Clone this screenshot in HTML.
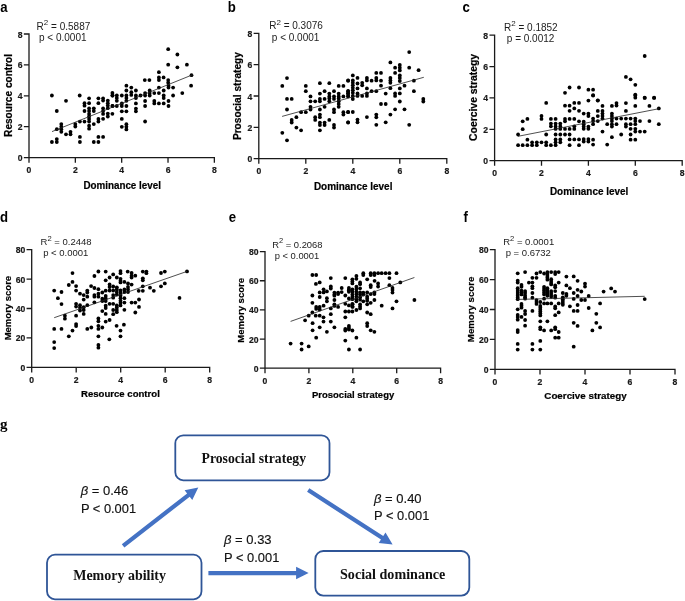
<!DOCTYPE html>
<html><head><meta charset="utf-8"><style>html,body{margin:0;padding:0;background:#fff;}svg{display:block;will-change:transform;}</style></head>
<body><svg width="685" height="601" viewBox="0 0 685 601" font-family="'Liberation Sans', sans-serif"><rect width="685" height="601" fill="#fff"/>
<text transform="translate(0.2,11.8) scale(0.88,1)" font-family="'Liberation Sans', sans-serif" font-size="15" font-weight="bold" fill="#000">a</text>
<text transform="translate(227.8,11.6) scale(0.88,1)" font-family="'Liberation Sans', sans-serif" font-size="15" font-weight="bold" fill="#000">b</text>
<text transform="translate(462.6,11.9) scale(0.88,1)" font-family="'Liberation Sans', sans-serif" font-size="15" font-weight="bold" fill="#000">c</text>
<text transform="translate(0,221.8) scale(0.88,1)" font-family="'Liberation Sans', sans-serif" font-size="15" font-weight="bold" fill="#000">d</text>
<text transform="translate(228.8,221.7) scale(0.88,1)" font-family="'Liberation Sans', sans-serif" font-size="15" font-weight="bold" fill="#000">e</text>
<text transform="translate(463.6,222) scale(0.88,1)" font-family="'Liberation Sans', sans-serif" font-size="15" font-weight="bold" fill="#000">f</text>
<path d="M29.00,34.00V157.60M29.00,157.60H214.36M24.50,157.60H29.00M24.50,126.70H29.00M24.50,95.80H29.00M24.50,64.90H29.00M24.50,34.00H29.00M29.00,157.60V162.10M75.34,157.60V162.10M121.68,157.60V162.10M168.02,157.60V162.10M214.36,157.60V162.10" stroke="#1a1a1a" stroke-width="1.3" fill="none" stroke-linecap="square"/>
<text transform="translate(22.50,161.10) scale(0.87,1)" text-anchor="end" font-size="9.9" font-weight="bold" fill="#1a1a1a" stroke="#1a1a1a" stroke-width="0.22">0</text>
<text transform="translate(22.50,130.20) scale(0.87,1)" text-anchor="end" font-size="9.9" font-weight="bold" fill="#1a1a1a" stroke="#1a1a1a" stroke-width="0.22">2</text>
<text transform="translate(22.50,99.30) scale(0.87,1)" text-anchor="end" font-size="9.9" font-weight="bold" fill="#1a1a1a" stroke="#1a1a1a" stroke-width="0.22">4</text>
<text transform="translate(22.50,68.40) scale(0.87,1)" text-anchor="end" font-size="9.9" font-weight="bold" fill="#1a1a1a" stroke="#1a1a1a" stroke-width="0.22">6</text>
<text transform="translate(22.50,37.50) scale(0.87,1)" text-anchor="end" font-size="9.9" font-weight="bold" fill="#1a1a1a" stroke="#1a1a1a" stroke-width="0.22">8</text>
<text transform="translate(29.00,173.30) scale(0.87,1)" text-anchor="middle" font-size="9.9" font-weight="bold" fill="#1a1a1a" stroke="#1a1a1a" stroke-width="0.22">0</text>
<text transform="translate(75.34,173.30) scale(0.87,1)" text-anchor="middle" font-size="9.9" font-weight="bold" fill="#1a1a1a" stroke="#1a1a1a" stroke-width="0.22">2</text>
<text transform="translate(121.68,173.30) scale(0.87,1)" text-anchor="middle" font-size="9.9" font-weight="bold" fill="#1a1a1a" stroke="#1a1a1a" stroke-width="0.22">4</text>
<text transform="translate(168.02,173.30) scale(0.87,1)" text-anchor="middle" font-size="9.9" font-weight="bold" fill="#1a1a1a" stroke="#1a1a1a" stroke-width="0.22">6</text>
<text transform="translate(214.36,173.30) scale(0.87,1)" text-anchor="middle" font-size="9.9" font-weight="bold" fill="#1a1a1a" stroke="#1a1a1a" stroke-width="0.22">8</text>
<text x="83.40" y="188.50" font-size="10.0" font-weight="bold" fill="#000" stroke="#000" stroke-width="0.2" textLength="77.5" lengthAdjust="spacingAndGlyphs">Dominance level</text>
<text transform="translate(12.20,95.40) rotate(-90)" text-anchor="middle" font-size="10.0" font-weight="bold" fill="#000" stroke="#000" stroke-width="0.2" textLength="83" lengthAdjust="spacingAndGlyphs">Resource control</text>
<path d="M258.80,33.30V158.70M258.80,158.70H446.80M254.30,158.70H258.80M254.30,127.35H258.80M254.30,96.00H258.80M254.30,64.65H258.80M254.30,33.30H258.80M258.80,158.70V163.20M305.80,158.70V163.20M352.80,158.70V163.20M399.80,158.70V163.20M446.80,158.70V163.20" stroke="#1a1a1a" stroke-width="1.3" fill="none" stroke-linecap="square"/>
<text transform="translate(252.30,162.20) scale(0.87,1)" text-anchor="end" font-size="9.9" font-weight="bold" fill="#1a1a1a" stroke="#1a1a1a" stroke-width="0.22">0</text>
<text transform="translate(252.30,130.85) scale(0.87,1)" text-anchor="end" font-size="9.9" font-weight="bold" fill="#1a1a1a" stroke="#1a1a1a" stroke-width="0.22">2</text>
<text transform="translate(252.30,99.50) scale(0.87,1)" text-anchor="end" font-size="9.9" font-weight="bold" fill="#1a1a1a" stroke="#1a1a1a" stroke-width="0.22">4</text>
<text transform="translate(252.30,68.15) scale(0.87,1)" text-anchor="end" font-size="9.9" font-weight="bold" fill="#1a1a1a" stroke="#1a1a1a" stroke-width="0.22">6</text>
<text transform="translate(252.30,36.80) scale(0.87,1)" text-anchor="end" font-size="9.9" font-weight="bold" fill="#1a1a1a" stroke="#1a1a1a" stroke-width="0.22">8</text>
<text transform="translate(258.80,174.40) scale(0.87,1)" text-anchor="middle" font-size="9.9" font-weight="bold" fill="#1a1a1a" stroke="#1a1a1a" stroke-width="0.22">0</text>
<text transform="translate(305.80,174.40) scale(0.87,1)" text-anchor="middle" font-size="9.9" font-weight="bold" fill="#1a1a1a" stroke="#1a1a1a" stroke-width="0.22">2</text>
<text transform="translate(352.80,174.40) scale(0.87,1)" text-anchor="middle" font-size="9.9" font-weight="bold" fill="#1a1a1a" stroke="#1a1a1a" stroke-width="0.22">4</text>
<text transform="translate(399.80,174.40) scale(0.87,1)" text-anchor="middle" font-size="9.9" font-weight="bold" fill="#1a1a1a" stroke="#1a1a1a" stroke-width="0.22">6</text>
<text transform="translate(446.80,174.40) scale(0.87,1)" text-anchor="middle" font-size="9.9" font-weight="bold" fill="#1a1a1a" stroke="#1a1a1a" stroke-width="0.22">8</text>
<text x="313.90" y="190.30" font-size="10.0" font-weight="bold" fill="#000" stroke="#000" stroke-width="0.2" textLength="78.5" lengthAdjust="spacingAndGlyphs">Dominance level</text>
<text transform="translate(240.60,96.10) rotate(-90)" text-anchor="middle" font-size="10.0" font-weight="bold" fill="#000" stroke="#000" stroke-width="0.2" textLength="88" lengthAdjust="spacingAndGlyphs">Prosocial strategy</text>
<path d="M494.60,35.18V160.70M494.60,160.70H682.20M490.10,160.70H494.60M490.10,129.32H494.60M490.10,97.94H494.60M490.10,66.56H494.60M490.10,35.18H494.60M494.60,160.70V165.20M541.50,160.70V165.20M588.40,160.70V165.20M635.30,160.70V165.20M682.20,160.70V165.20" stroke="#1a1a1a" stroke-width="1.3" fill="none" stroke-linecap="square"/>
<text transform="translate(488.10,164.20) scale(0.87,1)" text-anchor="end" font-size="9.9" font-weight="bold" fill="#1a1a1a" stroke="#1a1a1a" stroke-width="0.22">0</text>
<text transform="translate(488.10,132.82) scale(0.87,1)" text-anchor="end" font-size="9.9" font-weight="bold" fill="#1a1a1a" stroke="#1a1a1a" stroke-width="0.22">2</text>
<text transform="translate(488.10,101.44) scale(0.87,1)" text-anchor="end" font-size="9.9" font-weight="bold" fill="#1a1a1a" stroke="#1a1a1a" stroke-width="0.22">4</text>
<text transform="translate(488.10,70.06) scale(0.87,1)" text-anchor="end" font-size="9.9" font-weight="bold" fill="#1a1a1a" stroke="#1a1a1a" stroke-width="0.22">6</text>
<text transform="translate(488.10,38.68) scale(0.87,1)" text-anchor="end" font-size="9.9" font-weight="bold" fill="#1a1a1a" stroke="#1a1a1a" stroke-width="0.22">8</text>
<text transform="translate(494.60,176.40) scale(0.87,1)" text-anchor="middle" font-size="9.9" font-weight="bold" fill="#1a1a1a" stroke="#1a1a1a" stroke-width="0.22">0</text>
<text transform="translate(541.50,176.40) scale(0.87,1)" text-anchor="middle" font-size="9.9" font-weight="bold" fill="#1a1a1a" stroke="#1a1a1a" stroke-width="0.22">2</text>
<text transform="translate(588.40,176.40) scale(0.87,1)" text-anchor="middle" font-size="9.9" font-weight="bold" fill="#1a1a1a" stroke="#1a1a1a" stroke-width="0.22">4</text>
<text transform="translate(635.30,176.40) scale(0.87,1)" text-anchor="middle" font-size="9.9" font-weight="bold" fill="#1a1a1a" stroke="#1a1a1a" stroke-width="0.22">6</text>
<text transform="translate(682.20,176.40) scale(0.87,1)" text-anchor="middle" font-size="9.9" font-weight="bold" fill="#1a1a1a" stroke="#1a1a1a" stroke-width="0.22">8</text>
<text x="549.90" y="194.70" font-size="10.0" font-weight="bold" fill="#000" stroke="#000" stroke-width="0.2" textLength="78.4" lengthAdjust="spacingAndGlyphs">Dominance level</text>
<text transform="translate(477.30,97.40) rotate(-90)" text-anchor="middle" font-size="10.0" font-weight="bold" fill="#000" stroke="#000" stroke-width="0.2" textLength="87" lengthAdjust="spacingAndGlyphs">Coercive strategy</text>
<path d="M31.70,249.60V367.40M31.70,367.40H209.70M27.20,367.40H31.70M27.20,337.95H31.70M27.20,308.50H31.70M27.20,279.05H31.70M27.20,249.60H31.70M31.70,367.40V371.90M76.20,367.40V371.90M120.70,367.40V371.90M165.20,367.40V371.90M209.70,367.40V371.90" stroke="#1a1a1a" stroke-width="1.3" fill="none" stroke-linecap="square"/>
<text transform="translate(25.20,370.90) scale(0.87,1)" text-anchor="end" font-size="9.9" font-weight="bold" fill="#1a1a1a" stroke="#1a1a1a" stroke-width="0.22">0</text>
<text transform="translate(25.20,341.45) scale(0.87,1)" text-anchor="end" font-size="9.9" font-weight="bold" fill="#1a1a1a" stroke="#1a1a1a" stroke-width="0.22">20</text>
<text transform="translate(25.20,312.00) scale(0.87,1)" text-anchor="end" font-size="9.9" font-weight="bold" fill="#1a1a1a" stroke="#1a1a1a" stroke-width="0.22">40</text>
<text transform="translate(25.20,282.55) scale(0.87,1)" text-anchor="end" font-size="9.9" font-weight="bold" fill="#1a1a1a" stroke="#1a1a1a" stroke-width="0.22">60</text>
<text transform="translate(25.20,253.10) scale(0.87,1)" text-anchor="end" font-size="9.9" font-weight="bold" fill="#1a1a1a" stroke="#1a1a1a" stroke-width="0.22">80</text>
<text transform="translate(31.70,383.10) scale(0.87,1)" text-anchor="middle" font-size="9.9" font-weight="bold" fill="#1a1a1a" stroke="#1a1a1a" stroke-width="0.22">0</text>
<text transform="translate(76.20,383.10) scale(0.87,1)" text-anchor="middle" font-size="9.9" font-weight="bold" fill="#1a1a1a" stroke="#1a1a1a" stroke-width="0.22">2</text>
<text transform="translate(120.70,383.10) scale(0.87,1)" text-anchor="middle" font-size="9.9" font-weight="bold" fill="#1a1a1a" stroke="#1a1a1a" stroke-width="0.22">4</text>
<text transform="translate(165.20,383.10) scale(0.87,1)" text-anchor="middle" font-size="9.9" font-weight="bold" fill="#1a1a1a" stroke="#1a1a1a" stroke-width="0.22">6</text>
<text transform="translate(209.70,383.10) scale(0.87,1)" text-anchor="middle" font-size="9.9" font-weight="bold" fill="#1a1a1a" stroke="#1a1a1a" stroke-width="0.22">8</text>
<text x="81.00" y="396.80" font-size="9.5" font-weight="bold" fill="#000" stroke="#000" stroke-width="0.2" textLength="78.8" lengthAdjust="spacingAndGlyphs">Resource control</text>
<text transform="translate(10.80,308.10) rotate(-90)" text-anchor="middle" font-size="9.5" font-weight="bold" fill="#000" stroke="#000" stroke-width="0.2" textLength="64.5" lengthAdjust="spacingAndGlyphs">Memory score</text>
<path d="M265.00,251.60V368.20M265.00,368.20H440.60M260.50,368.20H265.00M260.50,339.05H265.00M260.50,309.90H265.00M260.50,280.75H265.00M260.50,251.60H265.00M265.00,368.20V372.70M308.90,368.20V372.70M352.80,368.20V372.70M396.70,368.20V372.70M440.60,368.20V372.70" stroke="#1a1a1a" stroke-width="1.3" fill="none" stroke-linecap="square"/>
<text transform="translate(258.50,371.70) scale(0.87,1)" text-anchor="end" font-size="9.9" font-weight="bold" fill="#1a1a1a" stroke="#1a1a1a" stroke-width="0.22">0</text>
<text transform="translate(258.50,342.55) scale(0.87,1)" text-anchor="end" font-size="9.9" font-weight="bold" fill="#1a1a1a" stroke="#1a1a1a" stroke-width="0.22">20</text>
<text transform="translate(258.50,313.40) scale(0.87,1)" text-anchor="end" font-size="9.9" font-weight="bold" fill="#1a1a1a" stroke="#1a1a1a" stroke-width="0.22">40</text>
<text transform="translate(258.50,284.25) scale(0.87,1)" text-anchor="end" font-size="9.9" font-weight="bold" fill="#1a1a1a" stroke="#1a1a1a" stroke-width="0.22">60</text>
<text transform="translate(258.50,255.10) scale(0.87,1)" text-anchor="end" font-size="9.9" font-weight="bold" fill="#1a1a1a" stroke="#1a1a1a" stroke-width="0.22">80</text>
<text transform="translate(265.00,383.90) scale(0.87,1)" text-anchor="middle" font-size="9.9" font-weight="bold" fill="#1a1a1a" stroke="#1a1a1a" stroke-width="0.22">0</text>
<text transform="translate(308.90,383.90) scale(0.87,1)" text-anchor="middle" font-size="9.9" font-weight="bold" fill="#1a1a1a" stroke="#1a1a1a" stroke-width="0.22">2</text>
<text transform="translate(352.80,383.90) scale(0.87,1)" text-anchor="middle" font-size="9.9" font-weight="bold" fill="#1a1a1a" stroke="#1a1a1a" stroke-width="0.22">4</text>
<text transform="translate(396.70,383.90) scale(0.87,1)" text-anchor="middle" font-size="9.9" font-weight="bold" fill="#1a1a1a" stroke="#1a1a1a" stroke-width="0.22">6</text>
<text transform="translate(440.60,383.90) scale(0.87,1)" text-anchor="middle" font-size="9.9" font-weight="bold" fill="#1a1a1a" stroke="#1a1a1a" stroke-width="0.22">8</text>
<text x="312.00" y="397.50" font-size="9.5" font-weight="bold" fill="#000" stroke="#000" stroke-width="0.2" textLength="82.2" lengthAdjust="spacingAndGlyphs">Prosocial strategy</text>
<text transform="translate(244.10,310.30) rotate(-90)" text-anchor="middle" font-size="9.5" font-weight="bold" fill="#000" stroke="#000" stroke-width="0.2" textLength="64.8" lengthAdjust="spacingAndGlyphs">Memory score</text>
<path d="M495.00,249.70V369.30M495.00,369.30H675.00M490.50,369.30H495.00M490.50,339.40H495.00M490.50,309.50H495.00M490.50,279.60H495.00M490.50,249.70H495.00M495.00,369.30V373.80M540.00,369.30V373.80M585.00,369.30V373.80M630.00,369.30V373.80M675.00,369.30V373.80" stroke="#1a1a1a" stroke-width="1.3" fill="none" stroke-linecap="square"/>
<text transform="translate(488.50,372.80) scale(0.87,1)" text-anchor="end" font-size="9.9" font-weight="bold" fill="#1a1a1a" stroke="#1a1a1a" stroke-width="0.22">0</text>
<text transform="translate(488.50,342.90) scale(0.87,1)" text-anchor="end" font-size="9.9" font-weight="bold" fill="#1a1a1a" stroke="#1a1a1a" stroke-width="0.22">20</text>
<text transform="translate(488.50,313.00) scale(0.87,1)" text-anchor="end" font-size="9.9" font-weight="bold" fill="#1a1a1a" stroke="#1a1a1a" stroke-width="0.22">40</text>
<text transform="translate(488.50,283.10) scale(0.87,1)" text-anchor="end" font-size="9.9" font-weight="bold" fill="#1a1a1a" stroke="#1a1a1a" stroke-width="0.22">60</text>
<text transform="translate(488.50,253.20) scale(0.87,1)" text-anchor="end" font-size="9.9" font-weight="bold" fill="#1a1a1a" stroke="#1a1a1a" stroke-width="0.22">80</text>
<text transform="translate(495.00,385.00) scale(0.87,1)" text-anchor="middle" font-size="9.9" font-weight="bold" fill="#1a1a1a" stroke="#1a1a1a" stroke-width="0.22">0</text>
<text transform="translate(540.00,385.00) scale(0.87,1)" text-anchor="middle" font-size="9.9" font-weight="bold" fill="#1a1a1a" stroke="#1a1a1a" stroke-width="0.22">2</text>
<text transform="translate(585.00,385.00) scale(0.87,1)" text-anchor="middle" font-size="9.9" font-weight="bold" fill="#1a1a1a" stroke="#1a1a1a" stroke-width="0.22">4</text>
<text transform="translate(630.00,385.00) scale(0.87,1)" text-anchor="middle" font-size="9.9" font-weight="bold" fill="#1a1a1a" stroke="#1a1a1a" stroke-width="0.22">6</text>
<text transform="translate(675.00,385.00) scale(0.87,1)" text-anchor="middle" font-size="9.9" font-weight="bold" fill="#1a1a1a" stroke="#1a1a1a" stroke-width="0.22">8</text>
<text x="544.30" y="399.00" font-size="9.5" font-weight="bold" fill="#000" stroke="#000" stroke-width="0.2" textLength="82.3" lengthAdjust="spacingAndGlyphs">Coercive strategy</text>
<text transform="translate(474.00,309.40) rotate(-90)" text-anchor="middle" font-size="9.5" font-weight="bold" fill="#000" stroke="#000" stroke-width="0.2" textLength="65.5" lengthAdjust="spacingAndGlyphs">Memory score</text>
<text x="36.60" y="29.60" font-size="10" fill="#1c1c1c">R<tspan dy="-4.60" font-size="8.00">2</tspan><tspan dy="4.60"> = 0.5887</tspan></text>
<text x="39.00" y="41.40" font-size="10" fill="#1c1c1c">p &lt; 0.0001</text>
<text x="269.20" y="29.30" font-size="10" fill="#1c1c1c">R<tspan dy="-4.60" font-size="8.00">2</tspan><tspan dy="4.60"> = 0.3076</tspan></text>
<text x="271.80" y="40.50" font-size="10" fill="#1c1c1c">p &lt; 0.0001</text>
<text x="504.00" y="30.80" font-size="10" fill="#1c1c1c">R<tspan dy="-4.60" font-size="8.00">2</tspan><tspan dy="4.60"> = 0.1852</tspan></text>
<text x="506.80" y="42.40" font-size="10" fill="#1c1c1c">p = 0.0012</text>
<text x="40.60" y="245.30" font-size="9.5" fill="#1c1c1c">R<tspan dy="-4.37" font-size="7.60">2</tspan><tspan dy="4.37"> = 0.2448</tspan></text>
<text x="43.20" y="256.40" font-size="9.5" fill="#1c1c1c">p &lt; 0.0001</text>
<text x="272.20" y="247.50" font-size="9.4" fill="#1c1c1c">R<tspan dy="-4.32" font-size="7.52">2</tspan><tspan dy="4.32"> = 0.2068</tspan></text>
<text x="274.70" y="258.80" font-size="9.4" fill="#1c1c1c">p &lt; 0.0001</text>
<text x="503.20" y="245.30" font-size="9.5" fill="#1c1c1c">R<tspan dy="-4.37" font-size="7.60">2</tspan><tspan dy="4.37"> = 0.0001</tspan></text>
<text x="505.70" y="256.40" font-size="9.5" fill="#1c1c1c">p = 0.6732</text>
<circle cx="51.9" cy="95.5" r="1.9"/>
<circle cx="79.7" cy="95.5" r="1.9"/>
<circle cx="112.4" cy="95.5" r="1.9"/>
<circle cx="112.4" cy="93.0" r="1.9"/>
<circle cx="66.0" cy="100.8" r="1.9"/>
<circle cx="89.1" cy="98.3" r="1.9"/>
<circle cx="98.4" cy="98.3" r="1.9"/>
<circle cx="103.1" cy="98.3" r="1.9"/>
<circle cx="103.1" cy="100.6" r="1.9"/>
<circle cx="107.8" cy="100.6" r="1.9"/>
<circle cx="107.8" cy="103.2" r="1.9"/>
<circle cx="107.8" cy="105.6" r="1.9"/>
<circle cx="107.8" cy="108.2" r="1.9"/>
<circle cx="112.4" cy="105.9" r="1.9"/>
<circle cx="84.5" cy="103.2" r="1.9"/>
<circle cx="84.5" cy="105.7" r="1.9"/>
<circle cx="89.1" cy="103.2" r="1.9"/>
<circle cx="98.4" cy="103.2" r="1.9"/>
<circle cx="56.8" cy="111.0" r="1.9"/>
<circle cx="84.5" cy="111.0" r="1.9"/>
<circle cx="89.1" cy="108.3" r="1.9"/>
<circle cx="89.1" cy="111.0" r="1.9"/>
<circle cx="89.1" cy="113.9" r="1.9"/>
<circle cx="89.1" cy="116.5" r="1.9"/>
<circle cx="89.1" cy="119.0" r="1.9"/>
<circle cx="89.1" cy="121.6" r="1.9"/>
<circle cx="93.8" cy="108.3" r="1.9"/>
<circle cx="93.8" cy="111.0" r="1.9"/>
<circle cx="103.1" cy="108.3" r="1.9"/>
<circle cx="103.1" cy="111.0" r="1.9"/>
<circle cx="103.1" cy="113.9" r="1.9"/>
<circle cx="107.8" cy="113.6" r="1.9"/>
<circle cx="107.8" cy="116.5" r="1.9"/>
<circle cx="112.4" cy="113.8" r="1.9"/>
<circle cx="103.1" cy="118.8" r="1.9"/>
<circle cx="98.4" cy="119.0" r="1.9"/>
<circle cx="98.4" cy="121.6" r="1.9"/>
<circle cx="93.8" cy="124.1" r="1.9"/>
<circle cx="89.1" cy="125.7" r="1.9"/>
<circle cx="89.1" cy="128.7" r="1.9"/>
<circle cx="79.9" cy="121.6" r="1.9"/>
<circle cx="84.5" cy="121.6" r="1.9"/>
<circle cx="75.3" cy="124.1" r="1.9"/>
<circle cx="75.3" cy="126.5" r="1.9"/>
<circle cx="61.3" cy="124.1" r="1.9"/>
<circle cx="61.3" cy="126.7" r="1.9"/>
<circle cx="61.3" cy="129.2" r="1.9"/>
<circle cx="61.3" cy="131.8" r="1.9"/>
<circle cx="56.8" cy="129.2" r="1.9"/>
<circle cx="66.0" cy="134.3" r="1.9"/>
<circle cx="70.5" cy="131.8" r="1.9"/>
<circle cx="70.5" cy="134.3" r="1.9"/>
<circle cx="79.9" cy="136.9" r="1.9"/>
<circle cx="98.4" cy="136.9" r="1.9"/>
<circle cx="103.1" cy="136.9" r="1.9"/>
<circle cx="56.8" cy="139.1" r="1.9"/>
<circle cx="56.8" cy="142.0" r="1.9"/>
<circle cx="51.9" cy="142.0" r="1.9"/>
<circle cx="79.9" cy="142.0" r="1.9"/>
<circle cx="93.8" cy="142.0" r="1.9"/>
<circle cx="98.4" cy="142.0" r="1.9"/>
<circle cx="168.2" cy="49.2" r="1.9"/>
<circle cx="177.4" cy="54.5" r="1.9"/>
<circle cx="168.2" cy="64.7" r="1.9"/>
<circle cx="177.4" cy="67.3" r="1.9"/>
<circle cx="186.9" cy="64.7" r="1.9"/>
<circle cx="191.5" cy="75.2" r="1.9"/>
<circle cx="158.9" cy="72.2" r="1.9"/>
<circle cx="158.9" cy="77.4" r="1.9"/>
<circle cx="158.9" cy="80.1" r="1.9"/>
<circle cx="163.6" cy="77.4" r="1.9"/>
<circle cx="144.8" cy="80.1" r="1.9"/>
<circle cx="149.4" cy="80.1" r="1.9"/>
<circle cx="168.2" cy="80.1" r="1.9"/>
<circle cx="168.2" cy="82.7" r="1.9"/>
<circle cx="126.4" cy="85.7" r="1.9"/>
<circle cx="131.3" cy="87.6" r="1.9"/>
<circle cx="126.4" cy="90.5" r="1.9"/>
<circle cx="135.9" cy="90.5" r="1.9"/>
<circle cx="131.3" cy="92.2" r="1.9"/>
<circle cx="131.3" cy="94.9" r="1.9"/>
<circle cx="112.6" cy="95.5" r="1.9"/>
<circle cx="116.8" cy="95.5" r="1.9"/>
<circle cx="116.8" cy="98.1" r="1.9"/>
<circle cx="116.8" cy="100.8" r="1.9"/>
<circle cx="121.8" cy="95.5" r="1.9"/>
<circle cx="126.4" cy="95.5" r="1.9"/>
<circle cx="126.4" cy="98.1" r="1.9"/>
<circle cx="126.4" cy="100.8" r="1.9"/>
<circle cx="135.9" cy="95.5" r="1.9"/>
<circle cx="135.9" cy="98.1" r="1.9"/>
<circle cx="140.5" cy="95.5" r="1.9"/>
<circle cx="145.1" cy="93.1" r="1.9"/>
<circle cx="145.1" cy="95.5" r="1.9"/>
<circle cx="149.7" cy="90.5" r="1.9"/>
<circle cx="149.7" cy="93.1" r="1.9"/>
<circle cx="149.7" cy="95.5" r="1.9"/>
<circle cx="154.3" cy="93.1" r="1.9"/>
<circle cx="158.9" cy="87.6" r="1.9"/>
<circle cx="158.9" cy="93.1" r="1.9"/>
<circle cx="163.7" cy="90.5" r="1.9"/>
<circle cx="163.7" cy="95.5" r="1.9"/>
<circle cx="163.7" cy="98.1" r="1.9"/>
<circle cx="168.5" cy="85.7" r="1.9"/>
<circle cx="168.5" cy="87.6" r="1.9"/>
<circle cx="173.1" cy="87.6" r="1.9"/>
<circle cx="173.1" cy="95.5" r="1.9"/>
<circle cx="182.3" cy="93.1" r="1.9"/>
<circle cx="191.1" cy="85.7" r="1.9"/>
<circle cx="112.6" cy="106.0" r="1.9"/>
<circle cx="116.8" cy="106.0" r="1.9"/>
<circle cx="121.8" cy="103.4" r="1.9"/>
<circle cx="121.8" cy="106.0" r="1.9"/>
<circle cx="126.4" cy="106.0" r="1.9"/>
<circle cx="135.9" cy="103.4" r="1.9"/>
<circle cx="145.1" cy="101.0" r="1.9"/>
<circle cx="145.1" cy="106.0" r="1.9"/>
<circle cx="154.3" cy="101.0" r="1.9"/>
<circle cx="154.3" cy="103.4" r="1.9"/>
<circle cx="158.9" cy="103.4" r="1.9"/>
<circle cx="163.7" cy="103.4" r="1.9"/>
<circle cx="168.5" cy="101.0" r="1.9"/>
<circle cx="168.5" cy="106.0" r="1.9"/>
<circle cx="121.8" cy="111.3" r="1.9"/>
<circle cx="126.4" cy="111.3" r="1.9"/>
<circle cx="135.9" cy="108.6" r="1.9"/>
<circle cx="135.9" cy="111.3" r="1.9"/>
<circle cx="121.8" cy="118.9" r="1.9"/>
<circle cx="145.1" cy="121.5" r="1.9"/>
<circle cx="121.8" cy="126.8" r="1.9"/>
<circle cx="126.4" cy="124.2" r="1.9"/>
<circle cx="126.4" cy="126.8" r="1.9"/>
<circle cx="126.4" cy="129.4" r="1.9"/>
<circle cx="287.0" cy="78.1" r="1.9"/>
<circle cx="282.3" cy="85.9" r="1.9"/>
<circle cx="305.8" cy="85.9" r="1.9"/>
<circle cx="305.8" cy="91.2" r="1.9"/>
<circle cx="319.9" cy="83.2" r="1.9"/>
<circle cx="329.3" cy="83.2" r="1.9"/>
<circle cx="338.7" cy="85.9" r="1.9"/>
<circle cx="343.4" cy="85.9" r="1.9"/>
<circle cx="348.1" cy="80.5" r="1.9"/>
<circle cx="324.6" cy="91.2" r="1.9"/>
<circle cx="334.0" cy="91.2" r="1.9"/>
<circle cx="319.9" cy="93.6" r="1.9"/>
<circle cx="310.5" cy="96.4" r="1.9"/>
<circle cx="329.3" cy="93.6" r="1.9"/>
<circle cx="329.3" cy="96.4" r="1.9"/>
<circle cx="329.3" cy="98.5" r="1.9"/>
<circle cx="329.3" cy="101.3" r="1.9"/>
<circle cx="334.0" cy="96.4" r="1.9"/>
<circle cx="334.0" cy="98.9" r="1.9"/>
<circle cx="338.7" cy="93.6" r="1.9"/>
<circle cx="338.7" cy="96.4" r="1.9"/>
<circle cx="338.7" cy="98.5" r="1.9"/>
<circle cx="338.7" cy="101.3" r="1.9"/>
<circle cx="338.7" cy="104.0" r="1.9"/>
<circle cx="338.7" cy="106.8" r="1.9"/>
<circle cx="343.4" cy="96.4" r="1.9"/>
<circle cx="348.1" cy="91.4" r="1.9"/>
<circle cx="348.1" cy="93.6" r="1.9"/>
<circle cx="348.1" cy="96.4" r="1.9"/>
<circle cx="287.0" cy="98.9" r="1.9"/>
<circle cx="291.7" cy="98.9" r="1.9"/>
<circle cx="319.9" cy="98.9" r="1.9"/>
<circle cx="319.9" cy="101.3" r="1.9"/>
<circle cx="324.6" cy="98.9" r="1.9"/>
<circle cx="310.5" cy="101.3" r="1.9"/>
<circle cx="315.2" cy="101.3" r="1.9"/>
<circle cx="310.5" cy="106.8" r="1.9"/>
<circle cx="310.5" cy="109.5" r="1.9"/>
<circle cx="324.6" cy="106.8" r="1.9"/>
<circle cx="287.0" cy="109.5" r="1.9"/>
<circle cx="301.1" cy="112.2" r="1.9"/>
<circle cx="305.8" cy="112.2" r="1.9"/>
<circle cx="319.9" cy="109.5" r="1.9"/>
<circle cx="334.0" cy="109.5" r="1.9"/>
<circle cx="334.0" cy="112.2" r="1.9"/>
<circle cx="343.4" cy="112.2" r="1.9"/>
<circle cx="343.4" cy="114.6" r="1.9"/>
<circle cx="348.1" cy="112.2" r="1.9"/>
<circle cx="296.4" cy="117.2" r="1.9"/>
<circle cx="291.7" cy="119.9" r="1.9"/>
<circle cx="291.7" cy="122.5" r="1.9"/>
<circle cx="315.2" cy="117.2" r="1.9"/>
<circle cx="315.2" cy="119.9" r="1.9"/>
<circle cx="319.9" cy="114.6" r="1.9"/>
<circle cx="319.9" cy="117.2" r="1.9"/>
<circle cx="329.3" cy="119.9" r="1.9"/>
<circle cx="319.9" cy="122.6" r="1.9"/>
<circle cx="319.9" cy="125.0" r="1.9"/>
<circle cx="324.6" cy="122.6" r="1.9"/>
<circle cx="324.6" cy="125.0" r="1.9"/>
<circle cx="334.0" cy="124.9" r="1.9"/>
<circle cx="334.0" cy="127.6" r="1.9"/>
<circle cx="348.1" cy="122.5" r="1.9"/>
<circle cx="296.4" cy="127.6" r="1.9"/>
<circle cx="301.1" cy="130.3" r="1.9"/>
<circle cx="319.9" cy="130.3" r="1.9"/>
<circle cx="282.3" cy="132.8" r="1.9"/>
<circle cx="287.0" cy="140.3" r="1.9"/>
<circle cx="409.2" cy="52.1" r="1.9"/>
<circle cx="390.4" cy="62.4" r="1.9"/>
<circle cx="395.1" cy="67.7" r="1.9"/>
<circle cx="399.8" cy="64.9" r="1.9"/>
<circle cx="399.8" cy="67.7" r="1.9"/>
<circle cx="399.8" cy="70.4" r="1.9"/>
<circle cx="409.2" cy="67.7" r="1.9"/>
<circle cx="418.6" cy="70.2" r="1.9"/>
<circle cx="395.1" cy="72.9" r="1.9"/>
<circle cx="399.8" cy="75.4" r="1.9"/>
<circle cx="399.8" cy="77.9" r="1.9"/>
<circle cx="399.8" cy="81.0" r="1.9"/>
<circle cx="376.3" cy="72.9" r="1.9"/>
<circle cx="381.0" cy="72.9" r="1.9"/>
<circle cx="352.8" cy="75.4" r="1.9"/>
<circle cx="357.5" cy="77.9" r="1.9"/>
<circle cx="348.1" cy="80.7" r="1.9"/>
<circle cx="352.8" cy="80.4" r="1.9"/>
<circle cx="352.8" cy="82.8" r="1.9"/>
<circle cx="352.8" cy="85.3" r="1.9"/>
<circle cx="352.8" cy="87.8" r="1.9"/>
<circle cx="352.8" cy="90.3" r="1.9"/>
<circle cx="352.8" cy="92.8" r="1.9"/>
<circle cx="352.8" cy="95.9" r="1.9"/>
<circle cx="352.8" cy="99.0" r="1.9"/>
<circle cx="357.5" cy="83.5" r="1.9"/>
<circle cx="357.5" cy="88.4" r="1.9"/>
<circle cx="357.5" cy="93.4" r="1.9"/>
<circle cx="357.5" cy="95.9" r="1.9"/>
<circle cx="362.2" cy="82.8" r="1.9"/>
<circle cx="362.2" cy="85.3" r="1.9"/>
<circle cx="366.9" cy="77.9" r="1.9"/>
<circle cx="366.9" cy="80.4" r="1.9"/>
<circle cx="371.6" cy="80.7" r="1.9"/>
<circle cx="376.3" cy="77.9" r="1.9"/>
<circle cx="376.3" cy="80.4" r="1.9"/>
<circle cx="381.0" cy="80.7" r="1.9"/>
<circle cx="390.4" cy="77.9" r="1.9"/>
<circle cx="390.4" cy="80.4" r="1.9"/>
<circle cx="390.4" cy="82.8" r="1.9"/>
<circle cx="381.0" cy="85.7" r="1.9"/>
<circle cx="366.9" cy="88.4" r="1.9"/>
<circle cx="390.4" cy="88.2" r="1.9"/>
<circle cx="399.8" cy="88.4" r="1.9"/>
<circle cx="404.5" cy="85.7" r="1.9"/>
<circle cx="413.9" cy="80.7" r="1.9"/>
<circle cx="371.6" cy="91.2" r="1.9"/>
<circle cx="376.3" cy="91.2" r="1.9"/>
<circle cx="413.9" cy="91.2" r="1.9"/>
<circle cx="348.1" cy="90.9" r="1.9"/>
<circle cx="348.1" cy="93.4" r="1.9"/>
<circle cx="348.1" cy="95.9" r="1.9"/>
<circle cx="362.2" cy="95.9" r="1.9"/>
<circle cx="366.9" cy="93.4" r="1.9"/>
<circle cx="366.9" cy="95.9" r="1.9"/>
<circle cx="385.7" cy="93.6" r="1.9"/>
<circle cx="395.1" cy="93.4" r="1.9"/>
<circle cx="395.1" cy="95.9" r="1.9"/>
<circle cx="399.8" cy="93.4" r="1.9"/>
<circle cx="399.8" cy="101.5" r="1.9"/>
<circle cx="423.3" cy="99.0" r="1.9"/>
<circle cx="423.3" cy="101.5" r="1.9"/>
<circle cx="381.0" cy="104.0" r="1.9"/>
<circle cx="385.7" cy="104.0" r="1.9"/>
<circle cx="395.1" cy="109.3" r="1.9"/>
<circle cx="404.5" cy="109.3" r="1.9"/>
<circle cx="348.1" cy="112.0" r="1.9"/>
<circle cx="352.8" cy="112.0" r="1.9"/>
<circle cx="390.4" cy="114.6" r="1.9"/>
<circle cx="376.3" cy="114.6" r="1.9"/>
<circle cx="376.3" cy="117.3" r="1.9"/>
<circle cx="366.9" cy="117.1" r="1.9"/>
<circle cx="348.1" cy="122.3" r="1.9"/>
<circle cx="357.5" cy="119.6" r="1.9"/>
<circle cx="357.5" cy="122.3" r="1.9"/>
<circle cx="376.3" cy="124.8" r="1.9"/>
<circle cx="385.7" cy="122.3" r="1.9"/>
<circle cx="409.2" cy="124.8" r="1.9"/>
<circle cx="518.1" cy="145.2" r="1.9"/>
<circle cx="518.1" cy="134.5" r="1.9"/>
<circle cx="522.7" cy="145.2" r="1.9"/>
<circle cx="522.7" cy="129.2" r="1.9"/>
<circle cx="522.7" cy="121.3" r="1.9"/>
<circle cx="527.4" cy="145.2" r="1.9"/>
<circle cx="527.4" cy="139.7" r="1.9"/>
<circle cx="527.4" cy="118.9" r="1.9"/>
<circle cx="532.1" cy="145.2" r="1.9"/>
<circle cx="532.1" cy="142.3" r="1.9"/>
<circle cx="536.8" cy="145.2" r="1.9"/>
<circle cx="536.8" cy="142.3" r="1.9"/>
<circle cx="541.5" cy="142.3" r="1.9"/>
<circle cx="541.5" cy="116.0" r="1.9"/>
<circle cx="541.5" cy="118.9" r="1.9"/>
<circle cx="546.2" cy="145.2" r="1.9"/>
<circle cx="546.2" cy="142.3" r="1.9"/>
<circle cx="546.2" cy="134.5" r="1.9"/>
<circle cx="546.2" cy="102.9" r="1.9"/>
<circle cx="550.9" cy="145.2" r="1.9"/>
<circle cx="550.9" cy="118.9" r="1.9"/>
<circle cx="550.9" cy="123.6" r="1.9"/>
<circle cx="550.9" cy="126.3" r="1.9"/>
<circle cx="555.6" cy="145.2" r="1.9"/>
<circle cx="555.6" cy="142.3" r="1.9"/>
<circle cx="555.6" cy="139.4" r="1.9"/>
<circle cx="555.6" cy="134.5" r="1.9"/>
<circle cx="555.6" cy="128.9" r="1.9"/>
<circle cx="555.6" cy="126.5" r="1.9"/>
<circle cx="555.6" cy="123.6" r="1.9"/>
<circle cx="555.6" cy="118.9" r="1.9"/>
<circle cx="560.3" cy="142.3" r="1.9"/>
<circle cx="560.3" cy="139.4" r="1.9"/>
<circle cx="560.3" cy="134.5" r="1.9"/>
<circle cx="560.3" cy="128.9" r="1.9"/>
<circle cx="560.3" cy="126.5" r="1.9"/>
<circle cx="560.3" cy="123.6" r="1.9"/>
<circle cx="565.0" cy="134.5" r="1.9"/>
<circle cx="565.0" cy="128.9" r="1.9"/>
<circle cx="565.0" cy="121.3" r="1.9"/>
<circle cx="565.0" cy="118.9" r="1.9"/>
<circle cx="565.0" cy="105.7" r="1.9"/>
<circle cx="569.6" cy="145.2" r="1.9"/>
<circle cx="569.6" cy="139.4" r="1.9"/>
<circle cx="569.6" cy="134.5" r="1.9"/>
<circle cx="569.6" cy="128.9" r="1.9"/>
<circle cx="569.6" cy="118.9" r="1.9"/>
<circle cx="569.6" cy="110.8" r="1.9"/>
<circle cx="569.6" cy="105.7" r="1.9"/>
<circle cx="574.3" cy="139.4" r="1.9"/>
<circle cx="574.3" cy="128.9" r="1.9"/>
<circle cx="574.3" cy="126.3" r="1.9"/>
<circle cx="574.3" cy="118.9" r="1.9"/>
<circle cx="574.3" cy="108.4" r="1.9"/>
<circle cx="574.3" cy="102.9" r="1.9"/>
<circle cx="579.0" cy="145.2" r="1.9"/>
<circle cx="579.0" cy="139.4" r="1.9"/>
<circle cx="579.0" cy="121.3" r="1.9"/>
<circle cx="579.0" cy="110.8" r="1.9"/>
<circle cx="579.0" cy="102.9" r="1.9"/>
<circle cx="583.7" cy="113.6" r="1.9"/>
<circle cx="583.7" cy="121.7" r="1.9"/>
<circle cx="583.7" cy="124.2" r="1.9"/>
<circle cx="583.7" cy="126.6" r="1.9"/>
<circle cx="583.7" cy="128.8" r="1.9"/>
<circle cx="583.7" cy="139.1" r="1.9"/>
<circle cx="583.7" cy="141.5" r="1.9"/>
<circle cx="588.4" cy="100.6" r="1.9"/>
<circle cx="588.4" cy="113.6" r="1.9"/>
<circle cx="588.4" cy="116.1" r="1.9"/>
<circle cx="588.4" cy="126.6" r="1.9"/>
<circle cx="588.4" cy="128.8" r="1.9"/>
<circle cx="588.4" cy="139.1" r="1.9"/>
<circle cx="588.4" cy="141.5" r="1.9"/>
<circle cx="593.1" cy="95.6" r="1.9"/>
<circle cx="593.1" cy="118.6" r="1.9"/>
<circle cx="593.1" cy="121.1" r="1.9"/>
<circle cx="593.1" cy="124.2" r="1.9"/>
<circle cx="593.1" cy="139.7" r="1.9"/>
<circle cx="593.1" cy="144.6" r="1.9"/>
<circle cx="597.8" cy="100.6" r="1.9"/>
<circle cx="597.8" cy="110.9" r="1.9"/>
<circle cx="597.8" cy="116.1" r="1.9"/>
<circle cx="597.8" cy="121.1" r="1.9"/>
<circle cx="602.5" cy="105.9" r="1.9"/>
<circle cx="602.5" cy="110.9" r="1.9"/>
<circle cx="602.5" cy="113.6" r="1.9"/>
<circle cx="602.5" cy="116.1" r="1.9"/>
<circle cx="602.5" cy="118.6" r="1.9"/>
<circle cx="602.5" cy="131.6" r="1.9"/>
<circle cx="607.2" cy="124.2" r="1.9"/>
<circle cx="607.2" cy="144.6" r="1.9"/>
<circle cx="611.9" cy="105.9" r="1.9"/>
<circle cx="611.9" cy="113.6" r="1.9"/>
<circle cx="611.9" cy="116.1" r="1.9"/>
<circle cx="611.9" cy="118.6" r="1.9"/>
<circle cx="611.9" cy="121.1" r="1.9"/>
<circle cx="611.9" cy="124.2" r="1.9"/>
<circle cx="611.9" cy="126.6" r="1.9"/>
<circle cx="611.9" cy="137.2" r="1.9"/>
<circle cx="616.5" cy="103.1" r="1.9"/>
<circle cx="616.5" cy="105.5" r="1.9"/>
<circle cx="616.5" cy="118.6" r="1.9"/>
<circle cx="616.5" cy="124.2" r="1.9"/>
<circle cx="621.2" cy="118.6" r="1.9"/>
<circle cx="621.2" cy="134.5" r="1.9"/>
<circle cx="625.9" cy="103.1" r="1.9"/>
<circle cx="625.9" cy="110.9" r="1.9"/>
<circle cx="625.9" cy="118.6" r="1.9"/>
<circle cx="625.9" cy="124.2" r="1.9"/>
<circle cx="625.9" cy="126.6" r="1.9"/>
<circle cx="630.6" cy="118.6" r="1.9"/>
<circle cx="630.6" cy="124.2" r="1.9"/>
<circle cx="630.6" cy="128.8" r="1.9"/>
<circle cx="630.6" cy="134.5" r="1.9"/>
<circle cx="630.6" cy="139.7" r="1.9"/>
<circle cx="635.3" cy="95.6" r="1.9"/>
<circle cx="635.3" cy="97.7" r="1.9"/>
<circle cx="635.3" cy="105.9" r="1.9"/>
<circle cx="635.3" cy="118.6" r="1.9"/>
<circle cx="635.3" cy="121.1" r="1.9"/>
<circle cx="635.3" cy="124.2" r="1.9"/>
<circle cx="635.3" cy="128.8" r="1.9"/>
<circle cx="635.3" cy="131.6" r="1.9"/>
<circle cx="635.3" cy="139.7" r="1.9"/>
<circle cx="640.0" cy="121.1" r="1.9"/>
<circle cx="640.0" cy="131.6" r="1.9"/>
<circle cx="644.7" cy="97.7" r="1.9"/>
<circle cx="644.7" cy="131.6" r="1.9"/>
<circle cx="649.4" cy="105.9" r="1.9"/>
<circle cx="649.4" cy="121.1" r="1.9"/>
<circle cx="654.1" cy="97.7" r="1.9"/>
<circle cx="658.8" cy="108.4" r="1.9"/>
<circle cx="658.8" cy="124.2" r="1.9"/>
<circle cx="644.7" cy="56.0" r="1.9"/>
<circle cx="625.9" cy="76.9" r="1.9"/>
<circle cx="630.6" cy="79.3" r="1.9"/>
<circle cx="635.3" cy="84.8" r="1.9"/>
<circle cx="569.6" cy="87.5" r="1.9"/>
<circle cx="579.0" cy="87.5" r="1.9"/>
<circle cx="565.0" cy="92.8" r="1.9"/>
<circle cx="588.4" cy="89.7" r="1.9"/>
<circle cx="593.1" cy="89.7" r="1.9"/>
<circle cx="593.1" cy="95.2" r="1.9"/>
<circle cx="597.8" cy="100.3" r="1.9"/>
<circle cx="635.3" cy="94.6" r="1.9"/>
<circle cx="644.7" cy="97.9" r="1.9"/>
<circle cx="654.1" cy="97.9" r="1.9"/>
<circle cx="72.5" cy="273.1" r="1.9"/>
<circle cx="98.4" cy="271.5" r="1.9"/>
<circle cx="94.4" cy="276.0" r="1.9"/>
<circle cx="72.5" cy="281.9" r="1.9"/>
<circle cx="68.8" cy="285.0" r="1.9"/>
<circle cx="76.1" cy="286.1" r="1.9"/>
<circle cx="91.1" cy="286.1" r="1.9"/>
<circle cx="94.4" cy="288.0" r="1.9"/>
<circle cx="98.4" cy="289.2" r="1.9"/>
<circle cx="54.2" cy="290.6" r="1.9"/>
<circle cx="61.5" cy="292.0" r="1.9"/>
<circle cx="76.1" cy="290.6" r="1.9"/>
<circle cx="87.3" cy="290.6" r="1.9"/>
<circle cx="87.3" cy="292.5" r="1.9"/>
<circle cx="80.0" cy="293.7" r="1.9"/>
<circle cx="83.7" cy="295.1" r="1.9"/>
<circle cx="87.3" cy="296.7" r="1.9"/>
<circle cx="94.4" cy="295.1" r="1.9"/>
<circle cx="94.4" cy="296.7" r="1.9"/>
<circle cx="98.4" cy="293.7" r="1.9"/>
<circle cx="98.4" cy="296.7" r="1.9"/>
<circle cx="102.3" cy="292.5" r="1.9"/>
<circle cx="102.3" cy="298.7" r="1.9"/>
<circle cx="102.3" cy="301.0" r="1.9"/>
<circle cx="57.9" cy="298.2" r="1.9"/>
<circle cx="83.7" cy="299.6" r="1.9"/>
<circle cx="61.5" cy="304.1" r="1.9"/>
<circle cx="76.1" cy="303.8" r="1.9"/>
<circle cx="76.1" cy="306.6" r="1.9"/>
<circle cx="80.0" cy="305.2" r="1.9"/>
<circle cx="80.0" cy="307.7" r="1.9"/>
<circle cx="80.0" cy="310.5" r="1.9"/>
<circle cx="83.7" cy="307.2" r="1.9"/>
<circle cx="83.7" cy="310.0" r="1.9"/>
<circle cx="87.3" cy="305.2" r="1.9"/>
<circle cx="94.4" cy="302.3" r="1.9"/>
<circle cx="102.3" cy="311.1" r="1.9"/>
<circle cx="83.7" cy="313.9" r="1.9"/>
<circle cx="105.7" cy="271.6" r="1.9"/>
<circle cx="105.7" cy="280.3" r="1.9"/>
<circle cx="105.7" cy="290.7" r="1.9"/>
<circle cx="105.7" cy="296.0" r="1.9"/>
<circle cx="105.7" cy="298.5" r="1.9"/>
<circle cx="105.7" cy="301.0" r="1.9"/>
<circle cx="105.7" cy="305.7" r="1.9"/>
<circle cx="105.7" cy="308.0" r="1.9"/>
<circle cx="105.7" cy="313.9" r="1.9"/>
<circle cx="64.9" cy="315.7" r="1.9"/>
<circle cx="64.9" cy="318.7" r="1.9"/>
<circle cx="76.1" cy="315.7" r="1.9"/>
<circle cx="76.1" cy="324.1" r="1.9"/>
<circle cx="76.1" cy="326.1" r="1.9"/>
<circle cx="54.2" cy="328.9" r="1.9"/>
<circle cx="61.5" cy="328.9" r="1.9"/>
<circle cx="72.5" cy="330.6" r="1.9"/>
<circle cx="87.3" cy="328.9" r="1.9"/>
<circle cx="91.3" cy="327.5" r="1.9"/>
<circle cx="68.8" cy="336.3" r="1.9"/>
<circle cx="54.2" cy="342.1" r="1.9"/>
<circle cx="54.2" cy="348.1" r="1.9"/>
<circle cx="98.4" cy="318.5" r="1.9"/>
<circle cx="98.4" cy="321.3" r="1.9"/>
<circle cx="98.4" cy="325.8" r="1.9"/>
<circle cx="98.4" cy="328.9" r="1.9"/>
<circle cx="102.3" cy="327.5" r="1.9"/>
<circle cx="98.4" cy="336.3" r="1.9"/>
<circle cx="98.4" cy="344.9" r="1.9"/>
<circle cx="98.4" cy="347.7" r="1.9"/>
<circle cx="105.7" cy="321.6" r="1.9"/>
<circle cx="109.6" cy="320.0" r="1.9"/>
<circle cx="109.3" cy="339.3" r="1.9"/>
<circle cx="113.2" cy="314.2" r="1.9"/>
<circle cx="116.6" cy="325.8" r="1.9"/>
<circle cx="120.5" cy="330.6" r="1.9"/>
<circle cx="120.5" cy="336.3" r="1.9"/>
<circle cx="123.9" cy="324.7" r="1.9"/>
<circle cx="120.5" cy="271.1" r="1.9"/>
<circle cx="120.5" cy="273.2" r="1.9"/>
<circle cx="127.7" cy="271.6" r="1.9"/>
<circle cx="131.6" cy="273.0" r="1.9"/>
<circle cx="131.6" cy="275.7" r="1.9"/>
<circle cx="131.6" cy="277.5" r="1.9"/>
<circle cx="135.3" cy="275.7" r="1.9"/>
<circle cx="142.8" cy="271.6" r="1.9"/>
<circle cx="146.4" cy="271.6" r="1.9"/>
<circle cx="146.4" cy="273.2" r="1.9"/>
<circle cx="161.0" cy="273.0" r="1.9"/>
<circle cx="164.8" cy="271.6" r="1.9"/>
<circle cx="113.2" cy="274.4" r="1.9"/>
<circle cx="109.6" cy="277.5" r="1.9"/>
<circle cx="116.8" cy="277.5" r="1.9"/>
<circle cx="120.5" cy="278.8" r="1.9"/>
<circle cx="120.5" cy="280.8" r="1.9"/>
<circle cx="120.5" cy="282.4" r="1.9"/>
<circle cx="124.4" cy="281.9" r="1.9"/>
<circle cx="128.0" cy="283.4" r="1.9"/>
<circle cx="131.6" cy="284.6" r="1.9"/>
<circle cx="142.8" cy="278.3" r="1.9"/>
<circle cx="142.8" cy="280.3" r="1.9"/>
<circle cx="142.8" cy="286.3" r="1.9"/>
<circle cx="150.0" cy="287.7" r="1.9"/>
<circle cx="153.8" cy="290.8" r="1.9"/>
<circle cx="161.0" cy="286.3" r="1.9"/>
<circle cx="164.8" cy="283.4" r="1.9"/>
<circle cx="138.7" cy="290.8" r="1.9"/>
<circle cx="142.8" cy="290.8" r="1.9"/>
<circle cx="109.6" cy="284.4" r="1.9"/>
<circle cx="109.6" cy="287.0" r="1.9"/>
<circle cx="109.6" cy="290.5" r="1.9"/>
<circle cx="113.2" cy="286.5" r="1.9"/>
<circle cx="113.2" cy="290.5" r="1.9"/>
<circle cx="113.2" cy="295.1" r="1.9"/>
<circle cx="113.2" cy="297.7" r="1.9"/>
<circle cx="116.8" cy="287.3" r="1.9"/>
<circle cx="116.8" cy="289.5" r="1.9"/>
<circle cx="116.8" cy="292.1" r="1.9"/>
<circle cx="116.8" cy="294.6" r="1.9"/>
<circle cx="120.5" cy="290.5" r="1.9"/>
<circle cx="120.5" cy="293.1" r="1.9"/>
<circle cx="120.5" cy="295.7" r="1.9"/>
<circle cx="120.5" cy="298.2" r="1.9"/>
<circle cx="120.5" cy="300.8" r="1.9"/>
<circle cx="120.5" cy="302.8" r="1.9"/>
<circle cx="120.5" cy="305.4" r="1.9"/>
<circle cx="124.4" cy="289.5" r="1.9"/>
<circle cx="124.4" cy="292.1" r="1.9"/>
<circle cx="124.4" cy="298.2" r="1.9"/>
<circle cx="124.4" cy="302.6" r="1.9"/>
<circle cx="128.0" cy="287.0" r="1.9"/>
<circle cx="128.0" cy="289.5" r="1.9"/>
<circle cx="128.0" cy="292.1" r="1.9"/>
<circle cx="109.6" cy="303.8" r="1.9"/>
<circle cx="113.2" cy="303.8" r="1.9"/>
<circle cx="116.8" cy="305.4" r="1.9"/>
<circle cx="116.8" cy="307.4" r="1.9"/>
<circle cx="116.8" cy="310.0" r="1.9"/>
<circle cx="116.8" cy="312.2" r="1.9"/>
<circle cx="113.2" cy="310.0" r="1.9"/>
<circle cx="124.4" cy="309.8" r="1.9"/>
<circle cx="131.6" cy="302.6" r="1.9"/>
<circle cx="135.3" cy="302.6" r="1.9"/>
<circle cx="139.0" cy="299.5" r="1.9"/>
<circle cx="139.0" cy="306.9" r="1.9"/>
<circle cx="135.3" cy="312.5" r="1.9"/>
<circle cx="179.5" cy="297.9" r="1.9"/>
<circle cx="187.0" cy="271.4" r="1.9"/>
<circle cx="312.4" cy="275.0" r="1.9"/>
<circle cx="316.2" cy="275.0" r="1.9"/>
<circle cx="330.8" cy="278.1" r="1.9"/>
<circle cx="345.3" cy="278.1" r="1.9"/>
<circle cx="352.4" cy="279.3" r="1.9"/>
<circle cx="352.4" cy="281.4" r="1.9"/>
<circle cx="352.4" cy="283.4" r="1.9"/>
<circle cx="315.9" cy="283.9" r="1.9"/>
<circle cx="319.7" cy="282.4" r="1.9"/>
<circle cx="330.8" cy="286.5" r="1.9"/>
<circle cx="330.8" cy="288.5" r="1.9"/>
<circle cx="323.6" cy="289.3" r="1.9"/>
<circle cx="323.6" cy="292.4" r="1.9"/>
<circle cx="319.7" cy="292.4" r="1.9"/>
<circle cx="326.9" cy="291.4" r="1.9"/>
<circle cx="341.7" cy="288.0" r="1.9"/>
<circle cx="341.7" cy="292.1" r="1.9"/>
<circle cx="338.1" cy="292.6" r="1.9"/>
<circle cx="338.1" cy="294.1" r="1.9"/>
<circle cx="334.4" cy="292.6" r="1.9"/>
<circle cx="334.4" cy="294.6" r="1.9"/>
<circle cx="334.4" cy="295.7" r="1.9"/>
<circle cx="348.9" cy="288.0" r="1.9"/>
<circle cx="348.9" cy="290.0" r="1.9"/>
<circle cx="348.9" cy="291.8" r="1.9"/>
<circle cx="352.4" cy="289.5" r="1.9"/>
<circle cx="352.4" cy="292.1" r="1.9"/>
<circle cx="352.4" cy="294.6" r="1.9"/>
<circle cx="352.4" cy="296.7" r="1.9"/>
<circle cx="352.4" cy="299.2" r="1.9"/>
<circle cx="312.4" cy="295.5" r="1.9"/>
<circle cx="319.7" cy="297.0" r="1.9"/>
<circle cx="345.3" cy="295.5" r="1.9"/>
<circle cx="348.9" cy="298.5" r="1.9"/>
<circle cx="326.9" cy="298.2" r="1.9"/>
<circle cx="326.9" cy="301.3" r="1.9"/>
<circle cx="334.4" cy="300.0" r="1.9"/>
<circle cx="312.4" cy="302.8" r="1.9"/>
<circle cx="323.6" cy="305.7" r="1.9"/>
<circle cx="316.2" cy="306.9" r="1.9"/>
<circle cx="316.2" cy="308.9" r="1.9"/>
<circle cx="319.7" cy="306.9" r="1.9"/>
<circle cx="319.7" cy="309.5" r="1.9"/>
<circle cx="334.4" cy="304.3" r="1.9"/>
<circle cx="334.4" cy="305.9" r="1.9"/>
<circle cx="338.1" cy="306.9" r="1.9"/>
<circle cx="330.8" cy="308.4" r="1.9"/>
<circle cx="345.3" cy="303.8" r="1.9"/>
<circle cx="348.9" cy="305.4" r="1.9"/>
<circle cx="352.4" cy="303.8" r="1.9"/>
<circle cx="352.4" cy="306.4" r="1.9"/>
<circle cx="345.3" cy="311.5" r="1.9"/>
<circle cx="348.9" cy="311.5" r="1.9"/>
<circle cx="352.4" cy="311.5" r="1.9"/>
<circle cx="312.4" cy="312.5" r="1.9"/>
<circle cx="330.8" cy="314.2" r="1.9"/>
<circle cx="363.3" cy="273.2" r="1.9"/>
<circle cx="363.3" cy="275.0" r="1.9"/>
<circle cx="370.7" cy="273.2" r="1.9"/>
<circle cx="370.7" cy="275.0" r="1.9"/>
<circle cx="374.4" cy="273.2" r="1.9"/>
<circle cx="374.4" cy="275.0" r="1.9"/>
<circle cx="378.1" cy="273.2" r="1.9"/>
<circle cx="381.7" cy="273.2" r="1.9"/>
<circle cx="385.6" cy="273.2" r="1.9"/>
<circle cx="389.4" cy="273.2" r="1.9"/>
<circle cx="396.5" cy="273.2" r="1.9"/>
<circle cx="389.4" cy="278.1" r="1.9"/>
<circle cx="356.4" cy="276.0" r="1.9"/>
<circle cx="356.4" cy="278.8" r="1.9"/>
<circle cx="367.2" cy="279.3" r="1.9"/>
<circle cx="374.6" cy="280.8" r="1.9"/>
<circle cx="360.1" cy="282.4" r="1.9"/>
<circle cx="360.1" cy="284.2" r="1.9"/>
<circle cx="378.1" cy="283.4" r="1.9"/>
<circle cx="378.1" cy="286.5" r="1.9"/>
<circle cx="370.7" cy="285.2" r="1.9"/>
<circle cx="370.7" cy="287.0" r="1.9"/>
<circle cx="389.4" cy="285.2" r="1.9"/>
<circle cx="400.3" cy="282.4" r="1.9"/>
<circle cx="392.5" cy="288.0" r="1.9"/>
<circle cx="392.5" cy="290.0" r="1.9"/>
<circle cx="392.5" cy="292.6" r="1.9"/>
<circle cx="356.4" cy="286.7" r="1.9"/>
<circle cx="356.4" cy="289.1" r="1.9"/>
<circle cx="356.4" cy="291.6" r="1.9"/>
<circle cx="356.4" cy="294.1" r="1.9"/>
<circle cx="356.4" cy="296.7" r="1.9"/>
<circle cx="356.4" cy="299.2" r="1.9"/>
<circle cx="356.4" cy="301.3" r="1.9"/>
<circle cx="360.1" cy="288.3" r="1.9"/>
<circle cx="360.1" cy="292.4" r="1.9"/>
<circle cx="360.1" cy="294.6" r="1.9"/>
<circle cx="360.1" cy="297.2" r="1.9"/>
<circle cx="360.1" cy="299.7" r="1.9"/>
<circle cx="348.8" cy="290.5" r="1.9"/>
<circle cx="363.3" cy="292.6" r="1.9"/>
<circle cx="363.3" cy="294.6" r="1.9"/>
<circle cx="367.2" cy="292.4" r="1.9"/>
<circle cx="370.7" cy="294.1" r="1.9"/>
<circle cx="374.4" cy="292.4" r="1.9"/>
<circle cx="374.4" cy="294.1" r="1.9"/>
<circle cx="367.2" cy="296.7" r="1.9"/>
<circle cx="367.2" cy="298.7" r="1.9"/>
<circle cx="367.2" cy="300.8" r="1.9"/>
<circle cx="363.3" cy="301.3" r="1.9"/>
<circle cx="374.4" cy="300.0" r="1.9"/>
<circle cx="396.5" cy="301.3" r="1.9"/>
<circle cx="414.4" cy="300.0" r="1.9"/>
<circle cx="370.7" cy="302.8" r="1.9"/>
<circle cx="367.2" cy="304.3" r="1.9"/>
<circle cx="381.7" cy="305.7" r="1.9"/>
<circle cx="352.6" cy="304.3" r="1.9"/>
<circle cx="352.6" cy="306.9" r="1.9"/>
<circle cx="360.1" cy="304.3" r="1.9"/>
<circle cx="360.1" cy="306.4" r="1.9"/>
<circle cx="360.1" cy="308.4" r="1.9"/>
<circle cx="356.4" cy="310.0" r="1.9"/>
<circle cx="392.5" cy="308.4" r="1.9"/>
<circle cx="367.2" cy="312.5" r="1.9"/>
<circle cx="370.7" cy="314.2" r="1.9"/>
<circle cx="308.7" cy="315.7" r="1.9"/>
<circle cx="305.1" cy="320.3" r="1.9"/>
<circle cx="315.7" cy="315.7" r="1.9"/>
<circle cx="319.7" cy="315.7" r="1.9"/>
<circle cx="323.5" cy="317.3" r="1.9"/>
<circle cx="312.6" cy="323.2" r="1.9"/>
<circle cx="323.5" cy="321.6" r="1.9"/>
<circle cx="330.8" cy="321.6" r="1.9"/>
<circle cx="319.7" cy="327.3" r="1.9"/>
<circle cx="334.4" cy="327.3" r="1.9"/>
<circle cx="312.6" cy="330.3" r="1.9"/>
<circle cx="326.9" cy="331.8" r="1.9"/>
<circle cx="316.2" cy="337.7" r="1.9"/>
<circle cx="290.6" cy="343.6" r="1.9"/>
<circle cx="301.6" cy="343.6" r="1.9"/>
<circle cx="301.6" cy="349.5" r="1.9"/>
<circle cx="308.7" cy="346.4" r="1.9"/>
<circle cx="345.3" cy="317.3" r="1.9"/>
<circle cx="345.3" cy="329.0" r="1.9"/>
<circle cx="345.3" cy="330.5" r="1.9"/>
<circle cx="348.9" cy="326.0" r="1.9"/>
<circle cx="348.9" cy="328.0" r="1.9"/>
<circle cx="348.9" cy="329.5" r="1.9"/>
<circle cx="352.4" cy="330.5" r="1.9"/>
<circle cx="345.3" cy="340.6" r="1.9"/>
<circle cx="348.9" cy="349.5" r="1.9"/>
<circle cx="367.2" cy="323.2" r="1.9"/>
<circle cx="367.2" cy="326.0" r="1.9"/>
<circle cx="370.7" cy="330.3" r="1.9"/>
<circle cx="374.4" cy="331.8" r="1.9"/>
<circle cx="356.4" cy="337.7" r="1.9"/>
<circle cx="360.1" cy="349.5" r="1.9"/>
<circle cx="517.7" cy="273.3" r="1.9"/>
<circle cx="517.7" cy="280.7" r="1.9"/>
<circle cx="517.7" cy="282.6" r="1.9"/>
<circle cx="517.7" cy="288.2" r="1.9"/>
<circle cx="517.7" cy="290.1" r="1.9"/>
<circle cx="517.7" cy="292.0" r="1.9"/>
<circle cx="517.7" cy="293.9" r="1.9"/>
<circle cx="517.7" cy="295.8" r="1.9"/>
<circle cx="517.7" cy="297.7" r="1.9"/>
<circle cx="517.7" cy="299.2" r="1.9"/>
<circle cx="517.7" cy="309.3" r="1.9"/>
<circle cx="517.7" cy="315.0" r="1.9"/>
<circle cx="517.7" cy="316.9" r="1.9"/>
<circle cx="517.7" cy="319.7" r="1.9"/>
<circle cx="517.7" cy="330.1" r="1.9"/>
<circle cx="517.7" cy="332.0" r="1.9"/>
<circle cx="517.7" cy="343.9" r="1.9"/>
<circle cx="517.7" cy="349.6" r="1.9"/>
<circle cx="521.5" cy="284.9" r="1.9"/>
<circle cx="521.5" cy="286.8" r="1.9"/>
<circle cx="521.5" cy="290.6" r="1.9"/>
<circle cx="521.5" cy="292.5" r="1.9"/>
<circle cx="521.5" cy="294.4" r="1.9"/>
<circle cx="521.5" cy="303.9" r="1.9"/>
<circle cx="521.5" cy="305.8" r="1.9"/>
<circle cx="521.5" cy="307.7" r="1.9"/>
<circle cx="521.5" cy="316.9" r="1.9"/>
<circle cx="525.1" cy="272.1" r="1.9"/>
<circle cx="525.1" cy="291.1" r="1.9"/>
<circle cx="525.1" cy="293.0" r="1.9"/>
<circle cx="525.1" cy="295.4" r="1.9"/>
<circle cx="525.1" cy="297.3" r="1.9"/>
<circle cx="525.1" cy="298.7" r="1.9"/>
<circle cx="525.1" cy="310.9" r="1.9"/>
<circle cx="525.1" cy="314.0" r="1.9"/>
<circle cx="525.1" cy="320.0" r="1.9"/>
<circle cx="525.1" cy="325.7" r="1.9"/>
<circle cx="528.9" cy="282.6" r="1.9"/>
<circle cx="532.4" cy="277.8" r="1.9"/>
<circle cx="532.4" cy="282.6" r="1.9"/>
<circle cx="532.4" cy="286.3" r="1.9"/>
<circle cx="532.4" cy="288.2" r="1.9"/>
<circle cx="532.4" cy="293.0" r="1.9"/>
<circle cx="532.4" cy="297.7" r="1.9"/>
<circle cx="532.4" cy="310.9" r="1.9"/>
<circle cx="532.4" cy="343.9" r="1.9"/>
<circle cx="532.4" cy="349.6" r="1.9"/>
<circle cx="536.5" cy="273.5" r="1.9"/>
<circle cx="536.5" cy="277.8" r="1.9"/>
<circle cx="536.5" cy="300.1" r="1.9"/>
<circle cx="536.5" cy="302.0" r="1.9"/>
<circle cx="536.5" cy="303.9" r="1.9"/>
<circle cx="540.3" cy="272.1" r="1.9"/>
<circle cx="540.3" cy="302.0" r="1.9"/>
<circle cx="540.3" cy="306.0" r="1.9"/>
<circle cx="540.3" cy="307.8" r="1.9"/>
<circle cx="540.3" cy="309.7" r="1.9"/>
<circle cx="540.3" cy="311.6" r="1.9"/>
<circle cx="540.3" cy="313.5" r="1.9"/>
<circle cx="540.3" cy="315.4" r="1.9"/>
<circle cx="540.3" cy="321.3" r="1.9"/>
<circle cx="540.3" cy="327.3" r="1.9"/>
<circle cx="540.3" cy="329.2" r="1.9"/>
<circle cx="540.3" cy="340.9" r="1.9"/>
<circle cx="540.3" cy="349.6" r="1.9"/>
<circle cx="544.1" cy="273.5" r="1.9"/>
<circle cx="544.1" cy="286.8" r="1.9"/>
<circle cx="544.1" cy="288.7" r="1.9"/>
<circle cx="544.1" cy="290.6" r="1.9"/>
<circle cx="544.1" cy="292.5" r="1.9"/>
<circle cx="544.1" cy="294.4" r="1.9"/>
<circle cx="544.1" cy="298.7" r="1.9"/>
<circle cx="544.1" cy="303.4" r="1.9"/>
<circle cx="544.1" cy="330.4" r="1.9"/>
<circle cx="547.4" cy="272.1" r="1.9"/>
<circle cx="547.4" cy="274.0" r="1.9"/>
<circle cx="547.4" cy="275.9" r="1.9"/>
<circle cx="547.4" cy="277.8" r="1.9"/>
<circle cx="547.4" cy="279.7" r="1.9"/>
<circle cx="547.4" cy="288.2" r="1.9"/>
<circle cx="547.4" cy="290.1" r="1.9"/>
<circle cx="547.4" cy="292.0" r="1.9"/>
<circle cx="547.4" cy="293.9" r="1.9"/>
<circle cx="547.4" cy="295.8" r="1.9"/>
<circle cx="547.4" cy="303.4" r="1.9"/>
<circle cx="547.4" cy="321.3" r="1.9"/>
<circle cx="551.2" cy="272.1" r="1.9"/>
<circle cx="551.2" cy="279.2" r="1.9"/>
<circle cx="551.2" cy="281.1" r="1.9"/>
<circle cx="551.2" cy="283.0" r="1.9"/>
<circle cx="551.2" cy="284.4" r="1.9"/>
<circle cx="551.2" cy="291.1" r="1.9"/>
<circle cx="551.2" cy="293.0" r="1.9"/>
<circle cx="551.2" cy="294.9" r="1.9"/>
<circle cx="551.2" cy="296.8" r="1.9"/>
<circle cx="551.2" cy="303.4" r="1.9"/>
<circle cx="551.2" cy="330.4" r="1.9"/>
<circle cx="555.2" cy="272.1" r="1.9"/>
<circle cx="555.2" cy="274.0" r="1.9"/>
<circle cx="555.2" cy="285.4" r="1.9"/>
<circle cx="555.2" cy="287.3" r="1.9"/>
<circle cx="555.2" cy="291.1" r="1.9"/>
<circle cx="555.2" cy="295.8" r="1.9"/>
<circle cx="555.2" cy="297.7" r="1.9"/>
<circle cx="555.2" cy="306.4" r="1.9"/>
<circle cx="555.2" cy="308.3" r="1.9"/>
<circle cx="555.2" cy="315.2" r="1.9"/>
<circle cx="555.2" cy="327.3" r="1.9"/>
<circle cx="555.2" cy="329.2" r="1.9"/>
<circle cx="555.2" cy="337.7" r="1.9"/>
<circle cx="558.7" cy="272.1" r="1.9"/>
<circle cx="558.7" cy="282.6" r="1.9"/>
<circle cx="558.7" cy="303.4" r="1.9"/>
<circle cx="558.7" cy="312.4" r="1.9"/>
<circle cx="558.7" cy="332.0" r="1.9"/>
<circle cx="558.7" cy="337.7" r="1.9"/>
<circle cx="562.8" cy="293.0" r="1.9"/>
<circle cx="562.8" cy="297.3" r="1.9"/>
<circle cx="562.8" cy="299.2" r="1.9"/>
<circle cx="562.8" cy="301.1" r="1.9"/>
<circle cx="562.8" cy="303.0" r="1.9"/>
<circle cx="562.8" cy="304.8" r="1.9"/>
<circle cx="566.4" cy="276.6" r="1.9"/>
<circle cx="566.4" cy="285.4" r="1.9"/>
<circle cx="566.4" cy="293.9" r="1.9"/>
<circle cx="566.4" cy="295.8" r="1.9"/>
<circle cx="569.9" cy="288.2" r="1.9"/>
<circle cx="569.9" cy="306.3" r="1.9"/>
<circle cx="573.7" cy="276.4" r="1.9"/>
<circle cx="573.7" cy="293.0" r="1.9"/>
<circle cx="573.7" cy="298.9" r="1.9"/>
<circle cx="573.7" cy="310.9" r="1.9"/>
<circle cx="573.7" cy="322.8" r="1.9"/>
<circle cx="573.7" cy="346.7" r="1.9"/>
<circle cx="577.6" cy="280.8" r="1.9"/>
<circle cx="577.6" cy="289.8" r="1.9"/>
<circle cx="577.6" cy="296.0" r="1.9"/>
<circle cx="577.6" cy="305.0" r="1.9"/>
<circle cx="577.6" cy="310.9" r="1.9"/>
<circle cx="577.6" cy="325.9" r="1.9"/>
<circle cx="581.3" cy="291.5" r="1.9"/>
<circle cx="581.3" cy="300.0" r="1.9"/>
<circle cx="585.0" cy="283.7" r="1.9"/>
<circle cx="585.0" cy="286.6" r="1.9"/>
<circle cx="585.0" cy="300.0" r="1.9"/>
<circle cx="588.7" cy="296.0" r="1.9"/>
<circle cx="588.7" cy="308.0" r="1.9"/>
<circle cx="596.3" cy="313.8" r="1.9"/>
<circle cx="596.3" cy="322.8" r="1.9"/>
<circle cx="600.1" cy="303.4" r="1.9"/>
<circle cx="600.1" cy="327.4" r="1.9"/>
<circle cx="592.4" cy="330.4" r="1.9"/>
<circle cx="603.6" cy="291.6" r="1.9"/>
<circle cx="611.2" cy="288.4" r="1.9"/>
<circle cx="615.0" cy="291.6" r="1.9"/>
<circle cx="644.7" cy="299.1" r="1.9"/>
<line x1="52.00" y1="131.60" x2="193.00" y2="74.60" stroke="#222" stroke-width="0.8"/>
<line x1="282.10" y1="116.40" x2="423.80" y2="77.30" stroke="#222" stroke-width="0.8"/>
<line x1="518.00" y1="136.30" x2="659.00" y2="108.70" stroke="#222" stroke-width="0.8"/>
<line x1="54.20" y1="317.70" x2="187.00" y2="271.40" stroke="#222" stroke-width="0.8"/>
<line x1="290.60" y1="321.40" x2="414.40" y2="277.50" stroke="#222" stroke-width="0.8"/>
<line x1="517.50" y1="299.40" x2="644.70" y2="296.30" stroke="#222" stroke-width="0.8"/>
<rect x="175.3" y="435.3" width="154.2" height="45.0" rx="8" ry="8" fill="#fff" stroke="#2F5597" stroke-width="1.8"/>
<text x="201.5" y="462.8" font-family="'Liberation Serif', serif" font-size="14" font-weight="bold" fill="#111" textLength="104.5" lengthAdjust="spacingAndGlyphs">Prosocial strategy</text>
<rect x="47" y="554.7" width="154.5" height="44.59999999999991" rx="8" ry="8" fill="#fff" stroke="#2F5597" stroke-width="1.8"/>
<text x="73.2" y="579.5" font-family="'Liberation Serif', serif" font-size="14" font-weight="bold" fill="#111" textLength="92.8" lengthAdjust="spacingAndGlyphs">Memory ability</text>
<rect x="315.3" y="551" width="154.0" height="44.60000000000002" rx="8" ry="8" fill="#fff" stroke="#2F5597" stroke-width="1.8"/>
<text x="340" y="578.6" font-family="'Liberation Serif', serif" font-size="14" font-weight="bold" fill="#111" textLength="105.3" lengthAdjust="spacingAndGlyphs">Social dominance</text>
<polygon points="208.40,575.20 296.10,575.20 296.10,579.35 308.60,573.10 296.10,566.85 296.10,571.00 208.40,571.00" fill="#4472C4"/>
<polygon points="124.39,547.46 189.72,496.73 192.26,500.00 198.30,487.40 184.59,490.13 187.14,493.41 121.81,544.14" fill="#4472C4"/>
<polygon points="307.06,491.76 380.96,539.57 378.71,543.06 392.60,544.60 385.50,532.56 383.25,536.05 309.34,488.24" fill="#4472C4"/>
<text x="80.7" y="495.0" font-size="13" fill="#111" stroke="#111" stroke-width="0.15" textLength="47.5" lengthAdjust="spacingAndGlyphs"><tspan font-style="italic">β</tspan> = 0.46</text>
<text x="80.9" y="512.8" font-size="13" fill="#111" stroke="#111" stroke-width="0.15" textLength="55.2" lengthAdjust="spacingAndGlyphs">P &lt; 0.001</text>
<text x="224.1" y="544.1" font-size="13" fill="#111" stroke="#111" stroke-width="0.15" textLength="47.5" lengthAdjust="spacingAndGlyphs"><tspan font-style="italic">β</tspan> = 0.33</text>
<text x="224.1" y="562.0" font-size="13" fill="#111" stroke="#111" stroke-width="0.15" textLength="55.2" lengthAdjust="spacingAndGlyphs">P &lt; 0.001</text>
<text x="374.1" y="502.7" font-size="13" fill="#111" stroke="#111" stroke-width="0.15" textLength="47.5" lengthAdjust="spacingAndGlyphs"><tspan font-style="italic">β</tspan> = 0.40</text>
<text x="374.1" y="520.4" font-size="13" fill="#111" stroke="#111" stroke-width="0.15" textLength="55.2" lengthAdjust="spacingAndGlyphs">P &lt; 0.001</text>
<text transform="translate(0,428.6) scale(1.0,1)" font-family="'Liberation Serif', serif" font-size="15" font-weight="bold" fill="#000">g</text></svg></body></html>
